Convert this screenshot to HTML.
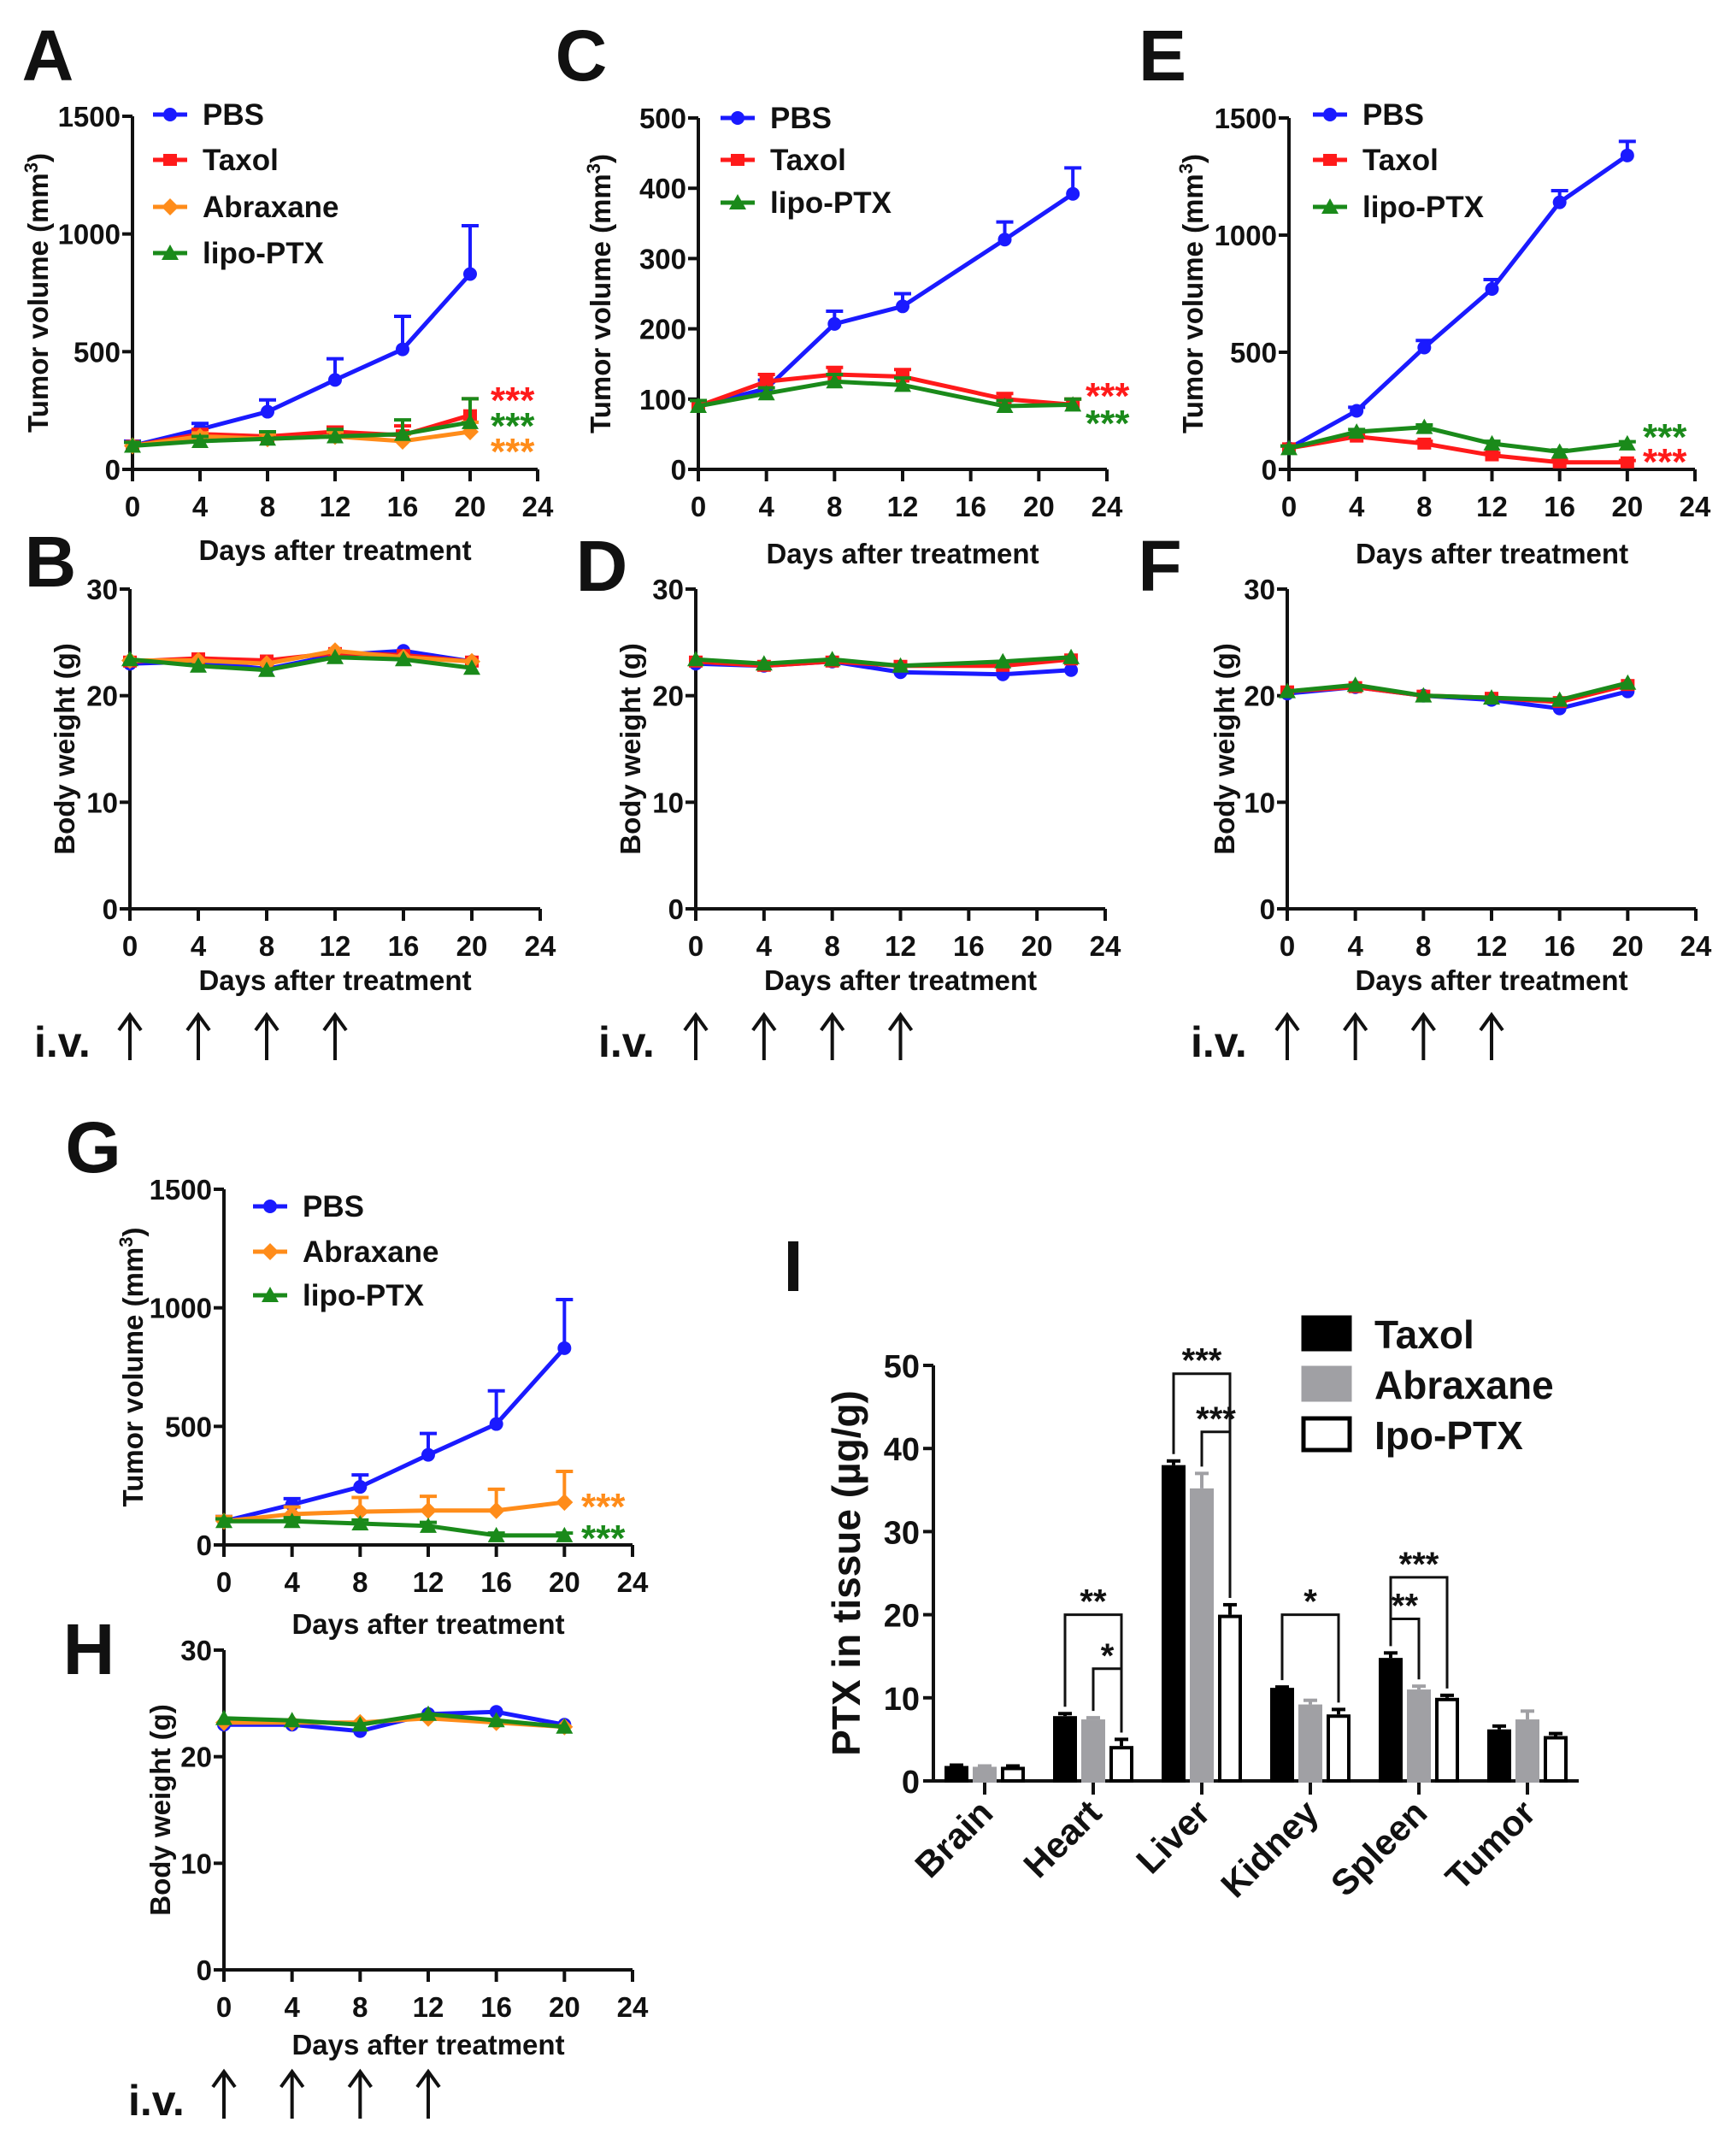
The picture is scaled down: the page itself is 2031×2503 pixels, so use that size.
<!DOCTYPE html>
<html><head><meta charset="utf-8"><style>
html,body{margin:0;padding:0;background:#fff}
svg{display:block}
text{font-family:"Liberation Sans",sans-serif;font-weight:bold;fill:#111}
</style></head><body>
<svg id="fig" width="2031" height="2503" viewBox="0 0 2031 2503"></svg>
<script>
// ---- data ----
const daysA=[0,4,8,12,16,20];
const daysC=[0,4,8,12,18,22];
const A_pbs=[100,170,245,380,510,830], A_pbs_e=[20,25,50,90,140,205];
const A_tax=[100,150,140,160,145,230], A_tax_e=[15,20,20,20,40,70];
const A_abr=[100,140,130,140,120,160], A_abr_e=[15,15,20,20,30,40];
const A_lip=[100,120,130,140,150,200], A_lip_e=[15,20,30,30,60,100];
const C_pbs=[90,115,207,232,327,392], C_pbs_e=[8,12,18,18,25,37];
const C_tax=[90,125,135,132,100,92], C_tax_e=[8,10,10,10,8,8];
const C_lip=[90,108,125,120,90,92], C_lip_e=[8,8,10,10,8,8];
const E_pbs=[90,250,520,770,1140,1340], E_pbs_e=[10,15,30,40,50,60];
const E_tax=[90,140,110,60,30,30], E_tax_e=[10,10,10,10,8,8];
const E_lip=[90,160,180,110,75,110], E_lip_e=[10,10,10,10,8,8];
const B_pbs=[23,23.2,22.5,23.8,24.2,23.2], B_tax=[23.2,23.5,23.3,24,23.8,23.2];
const B_abr=[23.3,23.3,23,24.2,23.6,23.2], B_lip=[23.4,22.8,22.4,23.6,23.4,22.6];
const D_pbs=[23,22.8,23.2,22.2,22,22.4], D_tax=[23.2,22.8,23.2,22.8,22.8,23.4], D_lip=[23.4,23,23.4,22.8,23.2,23.6];
const F_pbs=[20.2,20.8,20,19.6,18.8,20.4], F_tax=[20.4,20.8,20,19.8,19.4,21], F_lip=[20.4,21,20,19.8,19.6,21.2];
const G_abr=[100,130,140,145,145,180], G_abr_e=[20,30,60,60,90,130];
const G_lip=[100,100,90,80,40,40], G_lip_e=[10,15,15,15,10,10];
const H_pbs=[23,23,22.4,24,24.2,23], H_abr=[23.2,23.2,23.2,23.6,23.2,22.8], H_lip=[23.6,23.4,23,24,23.4,22.8];
const I_cats=["Brain","Heart","Liver","Kidney","Spleen","Tumor"];
const I_tax=[1.8,7.8,38,11.2,14.8,6.2], I_tax_e=[0.1,0.3,0.5,0.1,0.6,0.4];
const I_abr=[1.7,7.4,35.2,9.2,11,7.4], I_abr_e=[0.1,0.2,1.8,0.5,0.4,1];
const I_lip=[1.7,4.2,20,8,10,5.4], I_lip_e=[0.1,0.8,1.2,0.6,0.3,0.3];
const xTicks=[0,4,8,12,16,20,24];
const I_yTicks=[0,10,20,30,40,50];

const NS="http://www.w3.org/2000/svg";
const svg=document.getElementById('fig');
function el(tag,attrs,parent,txt){const e=document.createElementNS(NS,tag);for(const k in attrs)e.setAttribute(k,attrs[k]);if(txt!==undefined)e.textContent=txt;(parent||svg).appendChild(e);return e;}
const COL={PBS:"#1a1aff",Taxol:"#ff1a1a",Abraxane:"#ff8c1a",lipo:"#1a8a1a"};
function marker(g,shape,x,y,c){
  if(shape==="circle")el('circle',{cx:x,cy:y,r:8,fill:c},g);
  else if(shape==="square")el('rect',{x:x-8,y:y-7,width:16,height:14,fill:c},g);
  else if(shape==="diamond")el('polygon',{points:`${x},${y-10} ${x+10},${y} ${x},${y+10} ${x-10},${y}`,fill:c},g);
  else el('polygon',{points:`${x},${y-10} ${x+10},${y+8} ${x-10},${y+8}`,fill:c},g);
}
function panel(p){
  const g=el('g',{},svg);
  const sx=v=>p.x0+(v-0)/24*(p.x1-p.x0);
  const sy=v=>p.y0-(v/p.ymax)*(p.y0-p.y1);
  el('line',{x1:p.x0,y1:p.y1,x2:p.x0,y2:p.y0+14,stroke:"#111","stroke-width":4},g);
  el('line',{x1:p.x0,y1:p.y0,x2:p.x1,y2:p.y0,stroke:"#111","stroke-width":4},g);
  xTicks.forEach(t=>{const x=sx(t);el('line',{x1:x,y1:p.y0,x2:x,y2:p.y0+14,stroke:"#111","stroke-width":4},g);
    const tl=el('text',{x:x,y:p.y0+55,"text-anchor":"middle","font-size":33},g,String(t));});
  p.yticks.forEach(t=>{const y=sy(t);el('line',{x1:p.x0-12,y1:y,x2:p.x0,y2:y,stroke:"#111","stroke-width":4},g);
    const tl=el('text',{x:p.x0-14,y:y+12,"text-anchor":"end","font-size":33},g,String(t));});
  const xt=el('text',{x:(p.x0+p.x1)/2,y:p.xty,"text-anchor":"middle","font-size":33},g,"Days after treatment");
  
  const yt=el('text',{x:0,y:0,"text-anchor":"middle","font-size":33,transform:`translate(${p.ytx},${(p.y0+p.y1)/2}) rotate(-90)`},g);
  
  if(p.tumor){yt.textContent="Tumor volume (mm";el('tspan',{"font-size":22,dy:-12},yt,"3");el('tspan',{dy:12},yt,")");}
  else yt.textContent="Body weight (g)";
  p.series.forEach(s=>{
    const sg=el('g',{},g);
    const c=COL[s.key];
    if(s.err)s.vals.forEach((v,i)=>{const x=sx(p.days[i]);const ye=sy(v+s.err[i]);
      el('line',{x1:x,y1:sy(v),x2:x,y2:ye,stroke:c,"stroke-width":4},sg);
      el('line',{x1:x-10,y1:ye,x2:x+10,y2:ye,stroke:c,"stroke-width":4},sg);});
    el('polyline',{points:s.vals.map((v,i)=>sx(p.days[i])+","+sy(v)).join(" "),fill:"none",stroke:c,"stroke-width":5},sg);
    s.vals.forEach((v,i)=>marker(sg,s.shape,sx(p.days[i]),sy(v),c));
  });
  if(p.legend){p.legend.forEach((l,i)=>{const lg=el('g',{},g);
    const y=p.legend.ly[i];el('line',{x1:p.legend.lx,y1:y,x2:p.legend.lx+40,y2:y,stroke:COL[l.key],"stroke-width":5},lg);
    marker(lg,l.shape,p.legend.lx+20,y,COL[l.key]);
    el('text',{x:p.legend.lx+58,y:y+12,"font-size":35},lg,l.label);});}
  (p.stars||[]).forEach(s=>{const t=el('text',{x:p.starx,y:s.y,"font-size":44,style:"fill:"+COL[s.key]},g,"***");});
}
const S={PBS:"circle",Taxol:"square",Abraxane:"diamond",lipo:"triangle"};
function ser(key,vals,err){return {key,vals,err,shape:S[key]};}
function leg(keys,lx,ly,labels){const a=keys.map((k,i)=>({key:k,shape:S[k],label:labels[i]}));a.lx=lx;a.ly=ly;return a;}
const tumY=[0,500,1000,1500];const bwY=[0,10,20,30];
panel({name:"panel-a",x0:155,x1:629,y0:549,y1:136,ymax:1500,yticks:tumY,days:daysA,xty:655,ytx:56,tumor:true,
  series:[ser("PBS",A_pbs,A_pbs_e),ser("Taxol",A_tax,A_tax_e),ser("Abraxane",A_abr,A_abr_e),ser("lipo",A_lip,A_lip_e)],
  legend:leg(["PBS","Taxol","Abraxane","lipo"],179,[134,187,242,296],["PBS","Taxol","Abraxane","lipo-PTX"]),
  starx:574,stars:[{key:"Taxol",y:483},{key:"lipo",y:513},{key:"Abraxane",y:543}]});
panel({name:"panel-c",x0:817,x1:1295,y0:549,y1:138,ymax:500,yticks:[0,100,200,300,400,500],days:daysC,xty:659,ytx:714,tumor:true,
  series:[ser("PBS",C_pbs,C_pbs_e),ser("Taxol",C_tax,C_tax_e),ser("lipo",C_lip,C_lip_e)],
  legend:leg(["PBS","Taxol","lipo"],843,[138,187,237],["PBS","Taxol","lipo-PTX"]),
  starx:1270,stars:[{key:"Taxol",y:478},{key:"lipo",y:510}]});
panel({name:"panel-e",x0:1508,x1:1983,y0:549,y1:138,ymax:1500,yticks:tumY,days:daysA,xty:659,ytx:1407,tumor:true,
  series:[ser("PBS",E_pbs,E_pbs_e),ser("Taxol",E_tax,E_tax_e),ser("lipo",E_lip,E_lip_e)],
  legend:leg(["PBS","Taxol","lipo"],1536,[134,187,242],["PBS","Taxol","lipo-PTX"]),
  starx:1922,stars:[{key:"lipo",y:526},{key:"Taxol",y:555}]});
panel({name:"panel-b",x0:152,x1:632,y0:1063,y1:689,ymax:30,yticks:bwY,days:daysA,xty:1158,ytx:87,
  series:[ser("PBS",B_pbs),ser("Taxol",B_tax),ser("Abraxane",B_abr),ser("lipo",B_lip)]});
panel({name:"panel-d",x0:814,x1:1293,y0:1063,y1:689,ymax:30,yticks:bwY,days:daysC,xty:1158,ytx:749,
  series:[ser("PBS",D_pbs),ser("Taxol",D_tax),ser("lipo",D_lip)]});
panel({name:"panel-f",x0:1506,x1:1984,y0:1063,y1:689,ymax:30,yticks:bwY,days:daysA,xty:1158,ytx:1444,
  series:[ser("PBS",F_pbs),ser("Taxol",F_tax),ser("lipo",F_lip)]});
panel({name:"panel-g",x0:262,x1:740,y0:1807,y1:1391,ymax:1500,yticks:tumY,days:daysA,xty:1911,ytx:167,tumor:true,
  series:[ser("PBS",A_pbs,A_pbs_e),ser("Abraxane",G_abr,G_abr_e),ser("lipo",G_lip,G_lip_e)],
  legend:leg(["PBS","Abraxane","lipo"],296,[1411,1464,1515],["PBS","Abraxane","lipo-PTX"]),
  starx:680,stars:[{key:"Abraxane",y:1777},{key:"lipo",y:1814}]});
panel({name:"panel-h",x0:262,x1:740,y0:2304,y1:1930,ymax:30,yticks:bwY,days:daysA,xty:2403,ytx:199,
  series:[ser("PBS",H_pbs),ser("Abraxane",H_abr),ser("lipo",H_lip)]});

// panel letters
[["A",56,64],["C",680,64],["E",1360,64],["B",59,656],["D",704,661],["F",1357,661],["G",109,1341],["H",104,1928],["I",928,1480]].forEach(l=>{
  const t=el('text',{x:l[1],y:l[2]+30,"text-anchor":"middle","font-size":84},svg,l[0]);
  });
// i.v. arrows
function iv(tx,x0,x1,ytop,ybot){const g=el('g',{},svg);
  el('text',{x:tx,y:ybot-4,"font-size":50},g,"i.v.");
  [0,4,8,12].forEach(d=>{const x=x0+d/24*(x1-x0);
    el('line',{x1:x,y1:ytop,x2:x,y2:ybot,stroke:"#111","stroke-width":4},g);
    el('polyline',{points:`${x-13},${ytop+18} ${x},${ytop} ${x+13},${ytop+18}`,fill:"none",stroke:"#111","stroke-width":4},g);});}
iv(40,152,632,1187,1240);iv(700,814,1293,1187,1240);iv(1393,1506,1984,1187,1240);iv(150,262,740,2423,2478);

// panel I
(function(){
  const g=el('g',{},svg);
  const X0=1092,X1=1847,Y0=2083,Y1=1597,YM=50;
  const sy=v=>Y0-v/YM*(Y0-Y1);
  const cx=i=>1152+i*127;
  const off=[-33,0,33];
  el('line',{x1:X0,y1:Y1,x2:X0,y2:Y0,stroke:"#111","stroke-width":4},g);
  el('line',{x1:X0,y1:Y0,x2:X1,y2:Y0,stroke:"#111","stroke-width":4},g);
  I_yTicks.forEach(t=>{const y=sy(t);el('line',{x1:X0-12,y1:y,x2:X0,y2:y,stroke:"#111","stroke-width":4},g);
    el('text',{x:X0-16,y:y+14,"text-anchor":"end","font-size":38},g,String(t));});
  const yt=el('text',{x:0,y:0,"text-anchor":"middle","font-size":46,transform:`translate(1006,${(Y0+Y1)/2}) rotate(-90)`},g,"PTX in tissue (µg/g)");
  
  const sets=[[I_tax,I_tax_e,"#000","#000"],[I_abr,I_abr_e,"#a0a0a4","#a0a0a4"],[I_lip,I_lip_e,"#000","#fff"]];
  I_cats.forEach((c,i)=>{const x=cx(i);
    el('line',{x1:x,y1:Y0,x2:x,y2:Y0+16,stroke:"#111","stroke-width":4},g);
    const t=el('text',{x:0,y:0,"text-anchor":"end","font-size":42,transform:`translate(${x+12},${Y0+40}) rotate(-45)`},g,c);
    
    sets.forEach((s,k)=>{const bx=x+off[k];const v=s[0][i],e=s[1][i];
      el('line',{x1:bx,y1:sy(v),x2:bx,y2:sy(v+e),stroke:s[2],"stroke-width":4},g);
      el('line',{x1:bx-8,y1:sy(v+e),x2:bx+8,y2:sy(v+e),stroke:s[2],"stroke-width":4},g);
      const r=el('rect',{x:bx-12,y:sy(v)+2,width:24,height:Math.max(0,Y0-sy(v)-2),fill:s[3],stroke:s[2],"stroke-width":4},g);
      });
  });
  const br=[[1,0,2,20,"**"],[1,1,2,13.5,"*"],[2,0,2,49,"***"],[2,1,2,42,"***"],[3,0,2,20,"*"],[4,0,2,24.5,"***"],[4,0,1,19.5,"**"]];
  br.forEach(b=>{const xa=cx(b[0])+off[b[1]],xb=cx(b[0])+off[b[2]];const y=sy(b[3]);
    const topA=sy(sets[b[1]][0][b[0]]+sets[b[1]][1][b[0]])-8,topB=sy(sets[b[2]][0][b[0]]+sets[b[2]][1][b[0]])-8;
    el('polyline',{points:`${xa},${topA} ${xa},${y} ${xb},${y} ${xb},${topB}`,fill:"none",stroke:"#111","stroke-width":3},g);
    el('text',{x:(xa+xb)/2,y:y-2,"text-anchor":"middle","font-size":40},g,b[4]);});
  [["#000","#000","Taxol",1541],["#a0a0a4","#a0a0a4","Abraxane",1600],["#000","#fff","Ipo-PTX",1659]].forEach(l=>{
    const lg=el('g',{},g);
    el('rect',{x:1525,y:l[3],width:54,height:37,fill:l[1],stroke:l[0],"stroke-width":5},lg);
    el('text',{x:1608,y:l[3]+36,"font-size":46},lg,l[2]);});
})();
</script>
</body></html>
